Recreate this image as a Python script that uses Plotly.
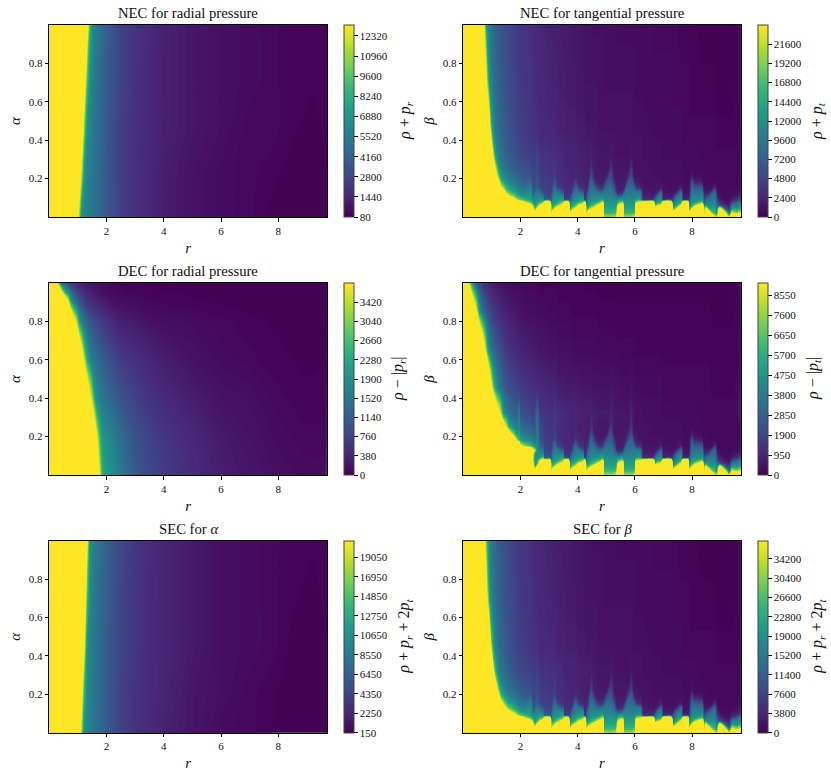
import plotly.graph_objects as go
from plotly.subplots import make_subplots

# grids; values are percent of each colourbar's span
# (values above 100 saturate to the top colour, as in the reference)
tick_r = [2, 4, 6, 8]
tick_y = [0.2, 0.4, 0.6, 0.8]

r_left = [0, .9, 1.0, 1.1, 1.2, 1.3, 1.4, 1.5, 1.6, 1.8, 2, 2.5, 3, 3.5, 4, 5, 6, 7, 7.8, 8.5, 9.2, 9.6, 9.7]
a_left = [0, .2, .45, .7, 1.0]
nec_r_pct = [
[200,200,200,200,200],[200,200,200,200,200],[105,150,200,200,200],
[55,95,190,200,200],[48,55,85,140,200],[45,46,52,75,130],[42,43,46,52,70],[40,40,42,45,50],
[37,37,38,40,44],[32,32,33,34,36],[28,28,28,29,30],[19,19,19,20,20],[14,14,14,15,15],
[11,11,11,11,12],[8,8,9,9,9],[5,5,6,6,6],[3,3,4,4,4],[2,2,2,3,3],[.6,1,2,2,2],[.3,.4,1,1,1],
[.3,.3,.4,1,1],[.6,.6,1,1,1],[1,1,1,1,2]]
sec_a_pct = [
[200,200,200,200,200],[200,200,200,200,200],[200,200,200,200,200],
[95,125,200,200,200],[52,70,110,170,200],[47,49,55,75,115],[44,44,46,50,55],[40,41,42,44,46],
[37,38,38,40,42],[33,33,34,34,36],[29,29,29,30,31],[20,20,21,21,22],[15,15,16,16,16],
[12,12,12,12,13],[9,10,10,10,10],[6,6,7,7,7],[3,4,4,4,4],[2,2,3,3,3],[.8,1,2,2,2],[.3,.4,.5,1,1],
[.3,.3,.3,.5,1],[.6,.6,.6,1,1],[1,1,1,1,2]]

r_dec_r = [0,.15,.25,.35,.45,.55,.65,.75,.85,.95,1.05,1.15,1.3,1.45,1.6,1.75,1.85,2,2.2,2.5,3,3.5,4,5,6,7,8,9,9.6,9.7]
a_dec_r = [0,.2,.4,.6,.8,.9,.95,1.0]
dec_r_pct = [
[200]*8,[200]*8,
[200,200,200,200,200,200,200,105],[200,200,200,200,200,200,150,60],[200,200,200,200,200,200,95,35],
[200,200,200,200,200,150,65,28],[200,200,200,200,200,105,52,22],[200,200,200,200,160,60,38,18],
[200,200,200,200,115,45,28,14],[200,200,200,200,90,34,22,11],[200,200,200,160,55,28,18,9],
[200,200,200,115,42,23,15,8],[200,200,150,65,32,16,11,6],[200,190,100,44,26,13,9,5],
[200,120,55,38,22,11,7,4],[100,70,44,33,19,9,6,4],[62,54,40,30,17,8,5,3],[55,48,36,27,15,7,4,3],
[50,44,32,23,12,5,3,2],[40,35,26,18,9,4,2,1.5],[28,25,20,14,7,3,1.5,1],[22,20,15,11,5,2,1,.6],
[18,16,12,8,4,1.5,1,.4],[12,11,8,5,3,1,.6,.3],[8,7,5,3,2,.7,.4,.3],[6,5,4,2,1,.5,.3,.3],[4,3,2,1,.7,.3,.3,.3],
[3,2,1,.7,.4,.3,.3,.3],[3,2,1.2,.8,.5,.5,.5,.5],[18,8,5,4,3,3,3,3]]

# tangential panels
b_low = [0,.02,.045,.06,.075,.09,.11,.13,.15,.18,.21,.25]
b_nec = b_low + [.32,.45,.70,1.0]
b_dec = b_low + [.32,.45,.65,.85,1.0]

r_nec_head = [0,.70,.80,.90,1.00,1.10,1.20,1.30,1.40,1.50,1.60,1.75,1.90]
r_mid = [2.00,2.10,2.20,2.33,2.40,2.42,2.50,2.58,2.70,2.80]
r_dec_head = [0,.15,.25,.35,.45,.55,.65,.75,.85,.95,1.1,1.2,1.3,1.4,1.5,1.6,1.75,1.9,1.95]
r_teeth = [2.83,3.03,3.08,3.13,3.20,3.27,3.38,3.50,3.53,3.68,3.72,3.80,3.86,3.93,4.03,4.20,4.23,4.27,4.30,4.36,4.42,4.48,4.56,4.65,4.80,4.88,4.92,5.00,5.08,5.17,5.27,5.36,5.42,5.58,5.62,5.70,5.78,5.88,5.94,6.00,6.04,6.20,6.28,6.65,6.70,6.80,6.93,6.97,7.28,7.32,7.45,7.63,7.67,7.86,7.90,8.00,8.08,8.36,8.40,8.43,8.47,8.60,8.72,8.80,8.88,8.97,9.15,9.30,9.40,9.55,9.70]

nec_t_head = [
[200]*16,
[200]*15+[110],
[200]*14+[105,58],
[200]*13+[130,55,45],
[200]*12+[125,60,42,38],
[200]*11+[110,62,44,36,33],
[200]*10+[90,66,46,38,32,30],
[200]*8+[115,75,58,47,38,33,29,27],
[200]*7+[130,88,62,50,42,35,30,27,25],
[200]*6+[125,85,68,52,44,37,31,28,25,23],
[200]*6+[95,70,58,46,40,34,29,26,23,22],
[200]*5+[120,78,60,52,42,36,31,26,23,21,20],
[200]*4+[135,85,62,52,44,37,32,28,24,21,19,18]]
sec_b_head = [
[200]*16,
[200]*15+[125],
[200]*14+[120,75],
[200]*13+[150,62,48],
[200]*12+[150,72,44,40],
[200]*11+[135,72,48,38,35],
[200]*10+[110,75,50,40,33,31],
[200]*8+[130,85,62,50,40,34,30,28],
[200]*7+[140,95,66,52,44,36,31,27,26],
[200]*6+[135,92,72,55,46,38,32,28,25,24],
[200]*6+[105,75,60,48,41,35,30,26,24,22],
[200]*5+[130,82,63,54,43,37,32,26,23,21,20],
[200]*4+[145,90,65,54,45,38,33,28,24,20,19,18]]
nec_t_mid = [
[200,200,200,200,125,75,55,46,40,34,30,26,22,19,17,16],
[200,200,200,190,110,68,52,45,38,32,28,25,21,18,16,15],
[200,200,200,160,90,62,52,47,40,30,27,24,20,17,16,15],
[200,200,190,125,75,58,52,48,44,36,26,23,19,16,15,14],
[200,200,170,100,65,55,50,46,40,28,24,21,18,15,14,13],
[200,200,125,85,58,46,30,26,24,22,21,20,18,15,14,13],
[200,115,62,55,52,48,42,30,24,22,21,20,17,14,13,12],
[200,175,95,66,55,50,46,40,32,28,26,24,21,14,12,12],
[200,200,170,105,68,52,44,34,22,19,18,17,15,12,11,11],
[200,200,200,130,75,50,38,24,20,18,17,16,14,11,11,10]]
dec_t_head = [
[200]*17,
[200]*16+[110],
[200]*16+[70],
[200]*15+[140,45],
[200]*15+[105,30],
[200]*15+[60,22],
[200]*14+[150,42,17],
[200]*14+[105,32,13],
[200]*14+[60,26,11],
[200]*13+[120,42,21,9],
[200]*12+[160,62,32,16,7],
[200]*12+[120,48,27,14,6],
[200]*12+[95,38,24,12,5],
[200]*11+[130,55,32,20,10,5],
[200]*11+[98,44,28,17,9,4],
[200]*10+[130,62,38,25,15,8,4],
[200]*10+[85,48,32,22,13,7,3],
[200]*9+[80,55,42,30,20,11,6,3],
[200]*9+[70,55,50,45,19,11,6,3]]
dec_t_mid = [
[200]*8+[105,60,46,38,26,18,10,5,3],
[200]*8+[90,52,42,34,24,17,9,5,2],
[200]*7+[170,80,50,40,32,23,16,9,4,2],
[200]*7+[150,70,48,38,30,22,15,8,4,2],
[200]*7+[130,65,46,36,28,20,14,8,4,2],
[200,200,160,120,100,100,110,110,60,44,35,28,20,14,8,4,2],
[200,100,55,50,50,52,55,90,50,36,30,26,20,13,7,4,2],
[200,180,100,60,52,50,50,50,50,48,44,40,35,13,7,3,2],
[200,200,180,130,100,55,48,42,32,25,22,20,16,12,6,3,1],
[200,200,200,200,120,70,46,36,28,23,20,18,15,11,6,3,1]]

# lower rows shared by the three tangential panels, upper rows per panel
teeth_low = [
[200,200,200,200,120,30,24,22,21,20,18,17],
[200,200,200,200,120,26,21,19,18,17,16,15],
[200,85,60,50,40,30,24,20,18,17,16,15],
[200,130,70,58,52,46,40,34,26,18,16,15],
[200,170,90,65,55,50,46,42,38,28,20,18],
[200,200,110,75,58,52,46,40,28,16,14,14],
[200,200,150,95,66,54,46,34,18,14,13,13],
[200,200,200,125,80,56,44,26,15,13,12,12],
[200,200,200,200,120,20,16,14,13,12,11,11],
[200,200,200,200,120,18,15,13,12,11,11,10],
[200,90,55,45,32,22,16,13,12,11,11,10],
[200,130,72,58,50,42,32,16,12,11,10,10],
[200,160,85,62,53,47,40,34,24,12,10,10],
[200,200,100,70,56,50,44,40,34,22,11,10],
[200,200,150,95,64,53,46,38,20,11,10,9],
[200,200,200,125,80,55,44,24,13,10,9,9],
[200,200,200,200,120,18,13,11,10,9,9,8],
[200,200,200,170,90,18,13,11,10,9,9,8],
[200,85,55,44,32,22,14,11,10,9,8,8],
[200,120,65,52,46,42,36,28,14,9,8,8],
[200,150,78,60,52,46,42,38,34,26,14,8],
[200,170,90,65,55,50,46,42,38,32,26,17],
[200,200,105,72,58,50,46,40,36,24,12,7],
[200,200,140,88,62,52,46,38,26,10,7,7],
[200,200,200,125,78,56,46,32,14,8,7,6],
[200,200,200,170,100,60,48,36,18,8,6,6],
[85,66,58,55,52,48,44,40,26,10,7,6],
[85,66,58,55,52,48,44,40,36,24,8,6],
[85,66,58,55,52,48,44,40,36,30,20,7],
[85,66,58,55,52,48,44,40,36,30,25,17],
[90,68,58,55,52,48,42,36,30,16,7,6],
[95,70,60,55,52,46,34,14,9,7,6,6],
[200,200,150,105,68,50,24,10,8,7,6,6],
[200,200,200,125,78,52,36,11,8,7,6,6],
[85,66,58,55,52,48,42,28,10,7,6,6],
[85,66,58,55,52,48,44,40,34,12,7,6],
[85,66,58,55,52,48,44,40,36,30,14,6],
[85,66,58,55,52,48,44,40,36,30,25,17],
[90,68,58,55,52,48,44,40,36,26,12,6],
[100,72,60,55,52,48,44,40,32,10,6,5],
[200,200,160,125,85,55,46,40,18,8,6,5],
[200,200,200,170,100,55,46,38,12,7,5,5],
[200,200,200,200,125,14,9,7,6,5,5,5],
[200,200,200,200,125,13,8,6,5,5,4,4],
[200,200,120,68,46,30,12,7,5,5,4,4],
[200,200,150,90,56,46,36,10,6,5,4,4],
[200,200,170,105,62,50,44,36,10,5,4,4],
[200,200,200,200,125,13,8,6,5,4,4,4],
[200,200,200,200,125,11,7,5,4,4,4,4],
[200,120,58,46,32,18,8,5,4,4,4,4],
[200,160,85,56,50,44,30,8,5,4,4,4],
[200,200,160,105,62,50,44,36,10,5,4,4],
[200,200,200,200,125,12,7,5,4,4,4,3],
[200,200,200,200,125,11,7,5,4,3,3,3],
[200,115,56,44,34,20,8,5,4,3,3,3],
[200,170,90,62,54,50,46,42,36,26,10,4],
[200,200,130,80,56,48,44,38,30,12,4,3],
[200,200,200,130,72,52,46,38,28,8,4,3],
[200,180,130,80,46,40,30,12,6,4,3,3],
[45,55,60,42,30,24,12,7,5,3,3,3],
[200,140,100,54,38,32,14,7,4,3,3,2],
[200,120,58,50,44,38,28,8,4,3,2,2],
[130,75,55,48,46,42,38,26,6,3,2,2],
[100,65,55,50,46,44,40,34,16,3,2,2],
[75,52,42,36,26,18,10,6,4,3,2,2],
[200,180,105,24,14,9,5,3,2,2,2,2],
[200,110,30,14,7,4,3,3,2,2,2,2],
[85,36,14,8,5,4,3,3,2,2,2,2],
[200,100,50,42,20,8,5,3,2,2,2,2],
[150,85,50,44,30,14,6,4,3,2,2,2],
[200,100,60,50,42,28,12,7,5,4,3,3]]
nec_t_upper = [
[16,12,11,10],[14,11,10,9],[14,11,10,9],[14,11,9,9],[15,11,9,8],[13,10,9,8],[12,9,8,8],[11,9,8,7],[10,9,8,7],[10,8,7,7],
[10,8,7,7],[10,8,7,7],[10,8,7,6],[10,8,7,6],[9,7,6,6],[8,7,6,5],[8,7,6,5],[8,7,5,5],[8,6,5,5],[8,6,5,5],
[8,6,5,5],[9,6,5,5],[7,6,5,4],[7,6,5,4],[6,5,5,4],[6,5,5,4],[6,5,4,4],[6,5,4,4],[6,5,4,4],[7,5,4,4],
[6,5,4,4],[5,5,4,3],[5,5,4,3],[5,5,4,3],[5,5,4,3],[5,5,4,3],[5,5,4,3],[6,5,4,3],[5,4,4,3],[5,4,4,3],
[5,4,3,3],[5,4,3,3],[4,4,3,3],[4,3,3,3],[4,3,3,2],[4,3,3,2],[4,3,3,2],[3,3,3,2],[3,3,3,2],[3,3,2,2],
[3,3,2,2],[3,3,2,1],[3,2,2,1],[3,2,2,1],[3,2,2,1],[3,2,1,1],[3,2,1,1],[2,2,1,.5],[2,2,1,.5],[2,2,1,.5],
[2,2,1,.5],[2,2,1,.5],[2,2,1,.4],[2,2,1,.4],[2,1,.7,.4],[2,1,.5,.4],[2,1,.5,.4],[2,1,.4,.4],[2,1,.5,.5],[2,1,1,1],[3,2,2,2]]
dec_t_upper = [
[16,11,6,3,1.5],[14,10,5,2.5,1.5],[14,10,5,2.5,1.5],[14,10,5,2.5,1.5],[18,11,5,2.5,1.5],[14,9,5,2.5,1],[13,8,4,2,1],[12,8,4,2,1],[11,8,4,2,1],[11,7,4,2,1],
[11,7,4,2,1],[10,7,4,1.5,.8],[10,7,3,1.5,.8],[11,7,3,1.5,.8],[10,7,3,1.5,.8],[9,6,3,1.5,.8],[9,6,3,1.5,.6],[9,6,3,1.5,.6],[9,6,3,1.5,.6],[9,6,3,1.5,.6],
[9,6,3,1.5,.6],[10,6,3,1.5,.6],[8,5,3,1.5,.6],[8,5,3,1.5,.6],[7,5,2.5,1,.6],[7,5,2.5,1,.6],[7,5,2.5,1,.6],[7,5,2.5,1,.6],[7,5,2.5,1,.6],[10,6,2.5,1,.6],
[7,5,2.5,1,.5],[6,5,2.5,1,.5],[6,5,2,1,.5],[6,4,2,1,.5],[6,4,2,1,.5],[6,4,2,1,.5],[6,4,2,1,.5],[10,5,2,1,.5],[6,4,2,1,.5],[6,4,2,1,.5],
[5,3,1.5,1,.5],[5,3,1.5,1,.5],[4,3,1.5,1,.5],[4,3,1.5,1,.5],[4,3,1.5,1,.5],[4,3,1.5,1,.5],[4,3,1.5,1,.5],[3,2,1.5,1,.5],[3,2,1.5,1,.5],[3,2,1.5,1,.5],
[3,2,1.5,1,.5],[3,2,1.5,1,.5],[3,2,1.5,1,.5],[3,2,1.5,1,.5],[3,2,1.5,1,.5],[3,2,1.5,1,.5],[3,2,1.5,1,.5],[2,2,1.5,1,.5],[2,2,1.5,1,.5],[2,2,1.5,1,.5],
[2,2,1.5,1,.5],[2,2,1.5,1,.5],[2,1.5,1,.7,.5],[2,1.5,1,.7,.5],[2,1.5,1,.7,.5],[2,1.5,1,.7,.5],[2,1.5,1,.7,.5],[2,1.5,1,.7,.5],[2,1.5,1,.7,.5],[3,2,1,1,1],[10,6,4,3,2]]

nec_t_cols = nec_t_head + nec_t_mid + [l + u for l, u in zip(teeth_low, nec_t_upper)]
sec_b_cols = sec_b_head + nec_t_mid + [l + u for l, u in zip(teeth_low, nec_t_upper)]
dec_t_cols = dec_t_head + dec_t_mid + [l + u for l, u in zip(teeth_low, dec_t_upper)]

titles = ["NEC for radial pressure", "NEC for tangential pressure", "DEC for radial pressure",
          "DEC for tangential pressure", "SEC for <i>α</i>", "SEC for <i>β</i>"]
cbar_titles = ["<i>ρ</i> + <i>p<sub>r</sub></i>", "<i>ρ</i> + <i>p<sub>t</sub></i>",
               "<i>ρ</i> − |<i>p<sub>r</sub></i>|", "<i>ρ</i> − |<i>p<sub>t</sub></i>|",
               "<i>ρ</i> + <i>p<sub>r</sub></i> + 2<i>p<sub>t</sub></i>", "<i>ρ</i> + <i>p<sub>r</sub></i> + 2<i>p<sub>t</sub></i>"]
y_names = ["α", "β", "α", "β", "α", "β"]
z_lims = [(80, 13060), (0, 24000), (0, 3800), (0, 9120), (150, 20850), (0, 37800)]
cbar_ticks = [
    [80, 1440, 2800, 4160, 5520, 6880, 8240, 9600, 10960, 12320],
    [0, 2400, 4800, 7200, 9600, 12000, 14400, 16800, 19200, 21600],
    [0, 380, 760, 1140, 1520, 1900, 2280, 2660, 3040, 3420],
    [0, 950, 1900, 2850, 3800, 4750, 5700, 6650, 7600, 8550],
    [150, 2250, 4350, 6450, 8550, 10650, 12750, 14850, 16950, 19050],
    [0, 3800, 7600, 11400, 15200, 19000, 22800, 26600, 30400, 34200],
]
panels = [
    (r_left, a_left, nec_r_pct),
    (r_nec_head + r_mid + r_teeth, b_nec, nec_t_cols),
    (r_dec_r, a_dec_r, dec_r_pct),
    (r_dec_head + r_mid + r_teeth, b_dec, dec_t_cols),
    (r_left, a_left, sec_a_pct),
    (r_nec_head + r_mid + r_teeth, b_nec, sec_b_cols),
]

W, H = 831, 778
col_px = [(49.3, 327.0), (463.3, 740.7)]
row_px = [(25.0, 217.0), (283.0, 475.0), (540.7, 732.7)]
cbar_px = [344.0, 757.7]
label_px = [405.0, 817.0, 398.0, 813.0, 405.0, 818.0]
FONT = "Liberation Serif"

fig = make_subplots(rows=3, cols=2)
notes = []
for i, (xs, ys, cols) in enumerate(panels):
    assert len(xs) == len(cols), (i, len(xs), len(cols))
    assert all(len(c) == len(ys) for c in cols), (i, [j for j, c in enumerate(cols) if len(c) != len(ys)])
    rw, cl = i // 2, i % 2
    lo, hi = z_lims[i]
    z = [[lo + cols[j][k] / 100 * (hi - lo) for j in range(len(xs))] for k in range(len(ys))]
    x0, x1 = col_px[cl]
    y0, y1 = row_px[rw]
    fig.add_trace(go.Contour(
        x=xs, y=ys, z=z, zmin=lo, zmax=hi, zauto=False, colorscale="Viridis",
        autocontour=False, contours=dict(start=lo, end=hi, size=(hi - lo) / 120, coloring="fill", showlines=False),
        line=dict(width=0), hoverinfo="skip",
        colorbar=dict(
            x=cbar_px[cl] / W, xanchor="left", xpad=0, ypad=0,
            y=1 - (y0 + y1) / 2 / H, yanchor="middle", len=192, lenmode="pixels",
            thickness=10, thicknessmode="pixels", outlinewidth=1, outlinecolor="#444",
            tickmode="array", tickvals=cbar_ticks[i], tickformat="d", ticks="outside", ticklen=3.5,
            tickwidth=0.8, tickcolor="black",
            tickfont=dict(family=FONT, size=11, color="#111"),
        ),
    ), row=rw + 1, col=cl + 1)
    axis_common = dict(showgrid=False, zeroline=False, showline=True, mirror=True,
                       linecolor="black", linewidth=1, ticks="outside", ticklen=3.5,
                       tickwidth=0.8, tickcolor="black", tickmode="array",
                       tickfont=dict(family=FONT, size=11, color="#111"))
    fig.update_xaxes(axis_common, domain=[x0 / W, x1 / W], range=[0, 9.7], tickvals=tick_r,
                     title=dict(text="<i>r</i>", font=dict(family=FONT, size=15, color="#111"), standoff=6),
                     row=rw + 1, col=cl + 1)
    fig.update_yaxes(axis_common, domain=[1 - y1 / H, 1 - y0 / H], range=[0, 1], tickvals=tick_y,
                     title=dict(text=f"<i>{y_names[i]}</i>", font=dict(family=FONT, size=15, color="#111"), standoff=4),
                     row=rw + 1, col=cl + 1)
    notes.append(dict(text=titles[i], xref="paper", yref="paper", x=(x0 + x1) / 2 / W, y=1 - (y0 - 2) / H,
                      xanchor="center", yanchor="bottom", showarrow=False,
                      font=dict(family=FONT, size=14.7, color="#111")))
    notes.append(dict(text=cbar_titles[i], xref="paper", yref="paper", x=label_px[i] / W,
                      y=1 - (y0 + y1) / 2 / H, xanchor="center", yanchor="middle", textangle=-90,
                      showarrow=False, font=dict(family=FONT, size=16, color="#111")))

fig.update_layout(width=W, height=H, margin=dict(l=0, r=0, t=0, b=0), paper_bgcolor="white",
                  plot_bgcolor="white", annotations=notes, showlegend=False)
fig.write_html("out.html", config={"displayModeBar": False},
               post_script="document.body.style.margin='0';document.documentElement.style.overflow='hidden';")
